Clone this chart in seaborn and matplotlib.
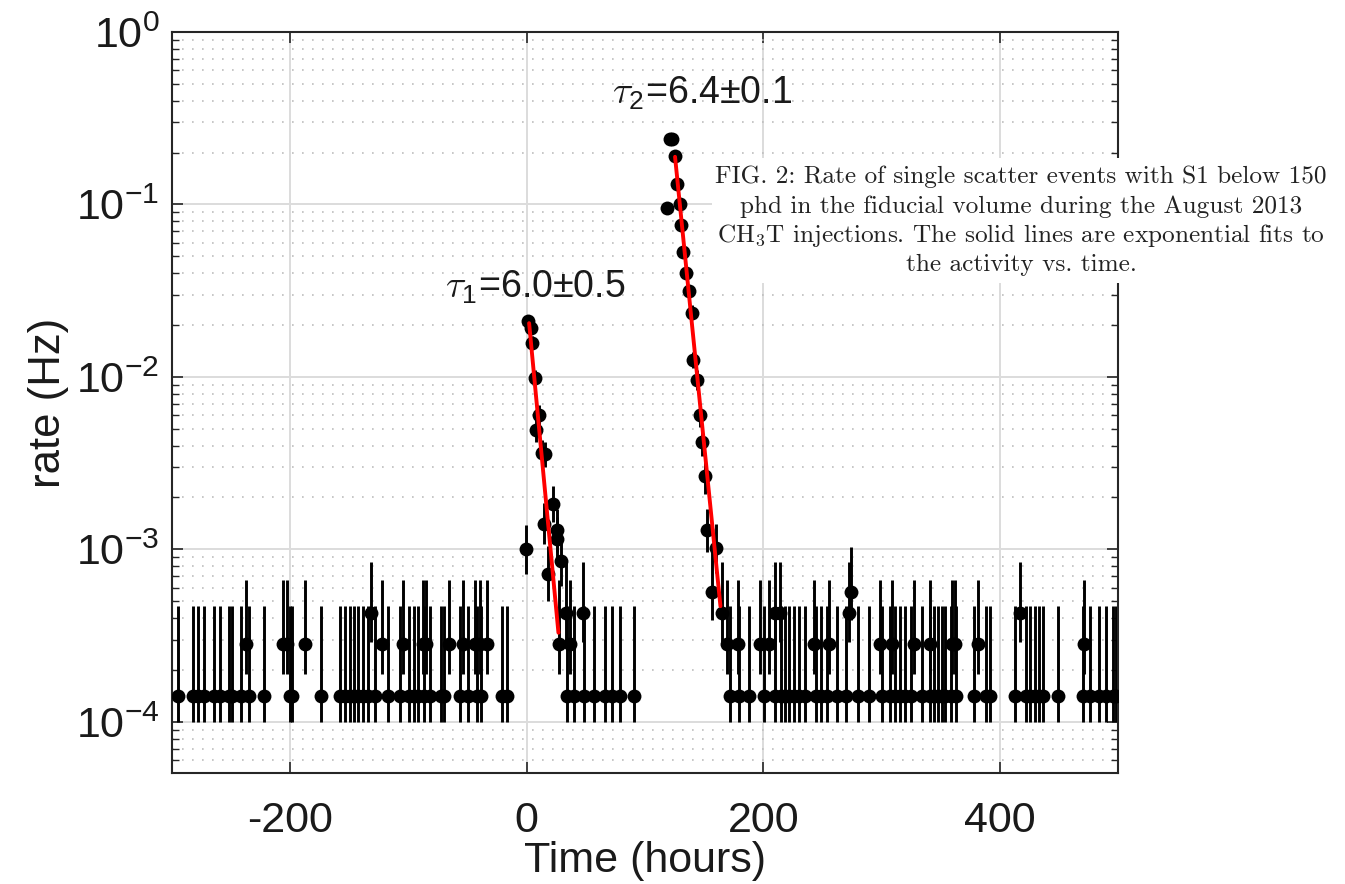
import numpy as np
import pandas as pd
import matplotlib
matplotlib.use("Agg")
import matplotlib.pyplot as plt
from matplotlib.patches import Rectangle
from matplotlib.ticker import LogLocator, NullFormatter
import seaborn as sns

# ---------------------------------------------------------------- data
# Background bins: rate levels for 1..4 counts per bin (Hz) and their error bar extents
level_rate = {1: 1.42e-4, 2: 2.84e-4, 3: 4.26e-4, 4: 5.68e-4}
level_lo = {1: 1.00e-4, 2: 1.90e-4, 3: 2.90e-4, 4: 3.90e-4}
level_hi = {1: 4.70e-4, 2: 6.60e-4, 3: 8.50e-4, 4: 1.03e-3}

# bin times (hours) at each background level
t_one = [-294.7, -282.5, -277.7, -272.6, -264.2, -259.3, -251.4, -249.4, -241.5, -234.5,
         -222.3, -200.6, -198.6, -173.7, -158.2, -154.0, -149.7, -146.0, -142.6, -138.4,
         -134.2, -128.6, -117.0, -107.5, -100.0, -95.0, -92.0, -87.0, -82.0, -72.5, -70.0,
         -56.5, -50.0, -42.0, -38.5, -21.3, -16.5,
         33.9, 39.6, 48.0, 56.5, 66.4, 72.0, 79.1, 90.4,
         172.3, 179.9, 187.9, 200.6, 209.9, 214.7, 218.4, 222.0, 226.0, 230.3, 235.3, 244.3,
         248.6, 254.2, 262.7, 269.7, 280.5, 289.6, 300.8, 307.0, 311.6, 315.5, 320.0, 324.8,
         334.2, 340.9, 344.7, 347.5, 351.1, 354.0, 358.7, 363.0, 378.6, 388.4, 391.8, 412.5,
         422.3, 425.7, 429.4, 433.1, 436.4, 449.2, 470.3, 476.5, 483.9, 490.1, 495.8, 498.6]
t_two = [-237.4, -206.3, -202.4, -187.3, -122.3, -104.7, -87.5, -85.5, -65.4, -54.2,
         -43.9, -39.7, -34.0, 27.4, 36.8, 169.5, 178.3, 197.0, 204.9, 242.5, 256.0,
         299.1, 308.6, 327.6, 340.8, 359.8, 362.5, 381.7, 471.6]
t_three = [-131.9, 33.2, 47.4, 165.5, 209.8, 214.3, 272.8, 416.8]
t_four = [274.6]

# Injection peaks: time (hours), rate (Hz) and error bar limits
peak_t = [-0.8, 1.1, 4.0, 4.5, 6.8, 8.2, 10.4, 13.3, 14.7, 15.3, 18.1, 22.3, 25.7, 25.9, 28.6,
          118.4, 120.8, 123.2, 125.0, 126.9, 129.7, 130.7, 132.2, 134.3, 137.5, 139.6, 140.9,
          144.3, 146.6, 148.1, 150.8, 152.3, 156.5, 160.2]
peak_rate = [0.00100, 0.0212, 0.0192, 0.0158, 0.0098, 0.00489, 0.0060, 0.00364, 0.00141,
             0.00358, 0.000721, 0.00184, 0.00130, 0.00115, 0.000857,
             0.096, 0.241, 0.241, 0.191, 0.131, 0.101, 0.0756, 0.0532, 0.0403, 0.0315,
             0.0236, 0.01255, 0.0096, 0.0060, 0.00422, 0.00267, 0.00130, 0.000569, 0.00102]
peak_lo = [0.00072, 0.0197, 0.0178, 0.0145, 0.0088, 0.0042, 0.0052, 0.0031, 0.00107,
           0.0030, 0.00050, 0.00145, 0.00097, 0.00085, 0.00061,
           0.092, 0.235, 0.235, 0.186, 0.126, 0.097, 0.072, 0.050, 0.0378, 0.0293,
           0.0216, 0.0112, 0.0084, 0.0051, 0.0035, 0.0021, 0.00097, 0.00039, 0.00073]
peak_hi = [0.00139, 0.0228, 0.0207, 0.0172, 0.0109, 0.0057, 0.0069, 0.0043, 0.00185,
           0.0042, 0.00105, 0.00232, 0.00172, 0.00155, 0.00120,
           0.100, 0.247, 0.247, 0.196, 0.136, 0.105, 0.079, 0.0565, 0.043, 0.034,
           0.026, 0.0140, 0.0109, 0.0070, 0.0050, 0.0033, 0.00172, 0.00103, 0.00140]

# Exponential fits: decay constant (hours), start time, rate at start, end time
tau1, tau1_err = 6.0, 0.5
fit1_t0, fit1_r0, fit1_t1 = 2.0, 0.0205, 26.8
tau2, tau2_err = 6.4, 0.1
fit2_t0, fit2_r0, fit2_t1 = 125.4, 0.189, 163.8

x_ticks = [-200, 0, 200, 400]
x_tick_labels = ["-200", "0", "200", "400"]
y_ticks = [1e-4, 1e-3, 1e-2, 1e-1, 1e0]
y_tick_labels = [r"$\mathregular{10^{-4}}$", r"$\mathregular{10^{-3}}$",
                 r"$\mathregular{10^{-2}}$", r"$\mathregular{10^{-1}}$",
                 r"$\mathregular{10^{0}}$"]

caption_lines = [
    "FIG. 2: Rate of single scatter events with S1 below 150",
    "phd in the fiducial volume during the August 2013",
    r"CH$_3$T injections. The solid lines are exponential fits to",
    "the activity vs. time.",
]

# ---------------------------------------------------------------- table
rows = []
for level, times in zip([1, 2, 3, 4], [t_one, t_two, t_three, t_four]):
    for t in times:
        rows.append((t, level_rate[level], level_lo[level], level_hi[level]))
for t, r, lo, hi in zip(peak_t, peak_rate, peak_lo, peak_hi):
    rows.append((t, r, lo, hi))
df = pd.DataFrame(rows, columns=["time", "rate", "lo", "hi"]).sort_values("time")

fits = pd.DataFrame({
    "time": [fit1_t0, fit1_t1, fit2_t0, fit2_t1],
    "rate": [fit1_r0, fit1_r0 * np.exp(-(fit1_t1 - fit1_t0) / tau1),
             fit2_r0, fit2_r0 * np.exp(-(fit2_t1 - fit2_t0) / tau2)],
    "injection": ["first", "first", "second", "second"],
})

# ---------------------------------------------------------------- style
sns.set_theme(style="ticks")
plt.rcParams["font.family"] = ["Liberation Sans", "DejaVu Sans"]
plt.rcParams["mathtext.fontset"] = "cm"
ink = "#1a1a1a"

fig = plt.figure(figsize=(13.45, 8.84), dpi=100)
ax = fig.add_axes([172 / 1345, 1 - 773 / 884, 946 / 1345, 741 / 884])

ax.set_yscale("log")
ax.set_xlim(-300, 500)
ax.set_ylim(5.05e-5, 1.0)

# error bars, markers, fit lines
ax.errorbar(df["time"], df["rate"],
            yerr=[df["rate"] - df["lo"], df["hi"] - df["rate"]],
            fmt="none", ecolor="black", elinewidth=2.1, capsize=0, zorder=2)
sns.scatterplot(data=df, x="time", y="rate", color="black", s=100,
                linewidth=0, legend=False, ax=ax, zorder=3)
sns.lineplot(data=fits, x="time", y="rate", units="injection", estimator=None,
             color="red", linewidth=2.8, legend=False, ax=ax, zorder=4)

# axes decoration
ax.set_xticks(x_ticks, x_tick_labels)
ax.set_yticks(y_ticks, y_tick_labels)
ax.yaxis.set_minor_locator(LogLocator(base=10, subs=np.arange(2, 10), numticks=20))
ax.yaxis.set_minor_formatter(NullFormatter())
ax.tick_params(which="both", direction="in", top=True, right=True,
               color="#262626", labelcolor=ink)
ax.tick_params(which="major", length=8, width=1.2)
ax.tick_params(which="minor", length=5, width=1.0)
ax.tick_params(axis="x", which="major", labelsize=31, pad=20)
ax.tick_params(axis="y", which="major", labelsize=31, pad=9)

ax.set_axisbelow(True)
ax.grid(True, which="major", color="#dcdcdc", linewidth=1.4, linestyle="-")
ax.yaxis.grid(True, which="minor", color="#bdbdbd", linewidth=1.2,
              linestyle=(0, (1, 5)))
for sp in ax.spines.values():
    sp.set_color("#262626")
    sp.set_linewidth(1.5)

ax.set_xlabel("Time (hours)", fontsize=31, color=ink)
ax.xaxis.label.set_va("center")
ax.xaxis.set_label_coords(0.5, (773 - 861) / 741)
ax.set_ylabel("rate (Hz)", fontsize=31.5, color=ink)
ax.yaxis.label.set_va("center")
ax.yaxis.set_label_coords((48 - 172) / 946, 0.5)

# decay-constant annotations
ax.text(-69.5, 0.0287, r"$\tau_{\mathregular{1}}$" + f"={tau1:.1f}\u00b1{tau1_err:.1f}",
        fontsize=27, color=ink, ha="left", va="baseline", zorder=5)
ax.text(72.0, 0.383, r"$\tau_{\mathregular{2}}$" + f"={tau2:.1f}\u00b1{tau2_err:.1f}",
        fontsize=27, color=ink, ha="left", va="baseline", zorder=5)

# figure caption on a white panel
fig.patches.append(Rectangle((712 / 1345, 1 - 283 / 884), (1332 - 712) / 1345,
                             (283 - 158) / 884, transform=fig.transFigure,
                             facecolor="white", edgecolor="none", zorder=10))
for i, line in enumerate(caption_lines):
    fig.text(1021 / 1345, 1 - (177 + 29.3 * i) / 884, line, fontfamily="cmr10",
             fontsize=18.2, color="#222222", ha="center", va="center", zorder=11)

fig.savefig("out.png", dpi=100, facecolor="white")
